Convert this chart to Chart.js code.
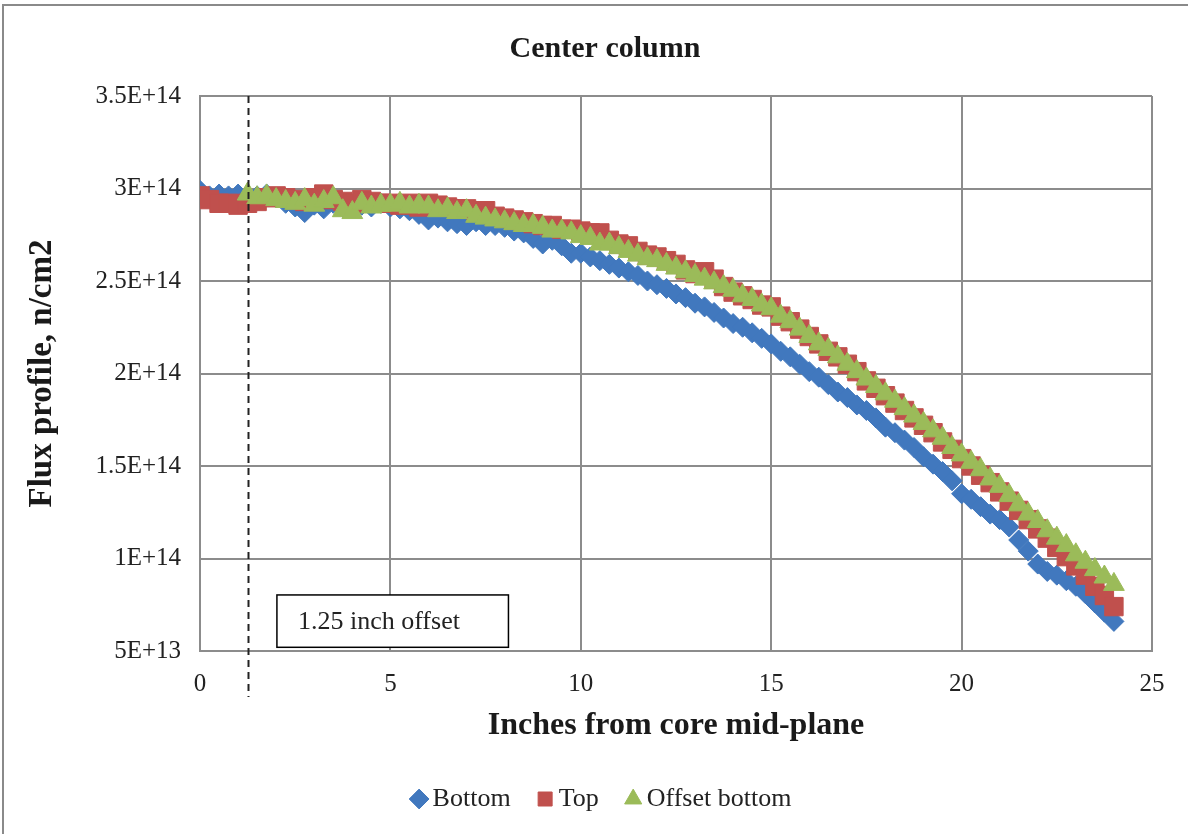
<!DOCTYPE html>
<html>
<head>
<meta charset="utf-8">
<script src="https://cdn.jsdelivr.net/npm/chart.js@4/dist/chart.umd.min.js"></script>
<style>
  html, body { margin: 0; padding: 0; background: #fff; }
  #wrap { position: relative; width: 1188px; height: 834px; }
</style>
</head>
<body>
<div id="wrap"><canvas id="chart" width="1188" height="834"></canvas></div>
<script>
// inches from core mid-plane (0.25 in steps)
const positions = [
    0, 0.25, 0.5, 0.75, 1, 1.25, 1.5, 1.75, 2, 2.25, 2.5, 2.75,
    3, 3.25, 3.5, 3.75, 4, 4.25, 4.5, 4.75, 5, 5.25, 5.5, 5.75,
    6, 6.25, 6.5, 6.75, 7, 7.25, 7.5, 7.75, 8, 8.25, 8.5, 8.75,
    9, 9.25, 9.5, 9.75, 10, 10.25, 10.5, 10.75, 11, 11.25, 11.5, 11.75,
    12, 12.25, 12.5, 12.75, 13, 13.25, 13.5, 13.75, 14, 14.25, 14.5, 14.75,
    15, 15.25, 15.5, 15.75, 16, 16.25, 16.5, 16.75, 17, 17.25, 17.5, 17.75,
    18, 18.25, 18.5, 18.75, 19, 19.25, 19.5, 19.75, 20, 20.25, 20.5, 20.75,
    21, 21.25, 21.5, 21.75, 22, 22.25, 22.5, 22.75, 23, 23.25, 23.5, 23.75, 24
];

// flux, n/cm2
const bottomFlux = [
    299e12, 296e12, 297e12, 296e12, 297e12, 295e12, 296e12, 297e12, 295e12, 292e12, 290e12, 287e12,
    291e12, 289e12, 292e12, 290e12, 291e12, 291e12, 290e12, 292e12, 290e12, 289e12, 288e12, 286e12,
    283e12, 284e12, 282e12, 281e12, 280e12, 282e12, 280e12, 280e12, 279e12, 277e12, 276e12, 273e12,
    270e12, 272e12, 269e12, 265e12, 265e12, 263e12, 261e12, 259e12, 257e12, 255e12, 253e12, 250e12,
    248e12, 246e12, 243e12, 241e12, 238e12, 236e12, 233e12, 230e12, 227e12, 225e12, 222e12, 219e12,
    216e12, 212e12, 209e12, 205e12, 201e12, 198e12, 194e12, 190e12, 187e12, 183e12, 180e12, 176e12,
    171e12, 168e12, 164e12, 160e12, 155e12, 151e12, 147e12, 142e12, 135e12, 132e12, 128e12, 124e12,
    121e12, 117e12, 110e12, 104e12, 97e12, 93e12, 91e12, 88e12, 85e12, 81e12, 76e12, 71e12, 66e12
];

const topFlux = [
    296e12, 294e12, 292e12, 292e12, 291e12, 292e12, 293e12, 295e12, 296e12, 295e12, 294e12, 293e12,
    295e12, 297e12, 294e12, 293e12, 292e12, 294e12, 293e12, 292e12, 292e12, 291e12, 292e12, 290e12,
    292e12, 291e12, 290e12, 289e12, 289e12, 288e12, 288e12, 285e12, 284e12, 283e12, 282e12, 281e12,
    280e12, 280e12, 278e12, 278e12, 277e12, 276e12, 276e12, 272e12, 270e12, 269e12, 266e12, 264e12,
    263e12, 261e12, 259e12, 256e12, 254e12, 255e12, 251e12, 247e12, 244e12, 242e12, 240e12, 237e12,
    236e12, 231e12, 228e12, 224e12, 220e12, 216e12, 212e12, 209e12, 205e12, 201e12, 196e12, 192e12,
    188e12, 184e12, 180e12, 176e12, 172e12, 168e12, 163e12, 159e12, 154e12, 150e12, 145e12, 141e12,
    136e12, 131e12, 126e12, 121e12, 116e12, 111e12, 106e12, 101e12, 96e12, 91e12, 85e12, 80e12, 74e12
];

// offset bottom starts at 1.25 in
const offsetFlux = [
    297e12, 295e12, 296e12, 294e12, 293e12, 292e12, 294e12,
    291e12, 293e12, 295e12, 288e12, 287e12, 292e12, 290e12, 291e12, 291e12, 292e12, 290e12, 291e12,
    290e12, 288e12, 289e12, 287e12, 288e12, 285e12, 284e12, 283e12, 282e12, 281e12, 280e12, 280e12,
    279e12, 277e12, 277e12, 276e12, 274e12, 273e12, 270e12, 270e12, 268e12, 266e12, 264e12, 262e12,
    261e12, 259e12, 257e12, 255e12, 253e12, 251e12, 249e12, 247e12, 245e12, 242e12, 240e12, 237e12,
    235e12, 231e12, 228e12, 224e12, 220e12, 216e12, 213e12, 209e12, 205e12, 201e12, 197e12, 193e12,
    189e12, 185e12, 181e12, 177e12, 173e12, 169e12, 165e12, 160e12, 156e12, 152e12, 148e12, 143e12,
    139e12, 134e12, 129e12, 124e12, 120e12, 115e12, 111e12, 107e12, 102e12, 98e12, 94e12, 90e12, 86e12
];

const seriesNames = ["Bottom", "Top", "Offset bottom"];
const xTicks = [0, 5, 10, 15, 20, 25];
const yTicks = [5e13, 1e14, 1.5e14, 2e14, 2.5e14, 3e14, 3.5e14];
const offsetInch = 1.25;
const offsetLabel = "1.25 inch offset";

const serif = "'Liberation Serif', 'Times New Roman', serif";
const gridGray = "#8c8c8c";

function toPoints(xs, ys) {
    return ys.map((y, i) => ({ x: xs[i], y: y }));
}

// dashed offset line, text box, frame
const extras = {
    id: "extras",
    beforeDraw(chart) {
        const ctx = chart.ctx;
        ctx.save();
        ctx.fillStyle = "#fff";
        ctx.fillRect(0, 0, chart.width, chart.height);
        ctx.strokeStyle = "#8a8a8a";
        ctx.lineWidth = 2;
        ctx.beginPath();
        ctx.moveTo(3, chart.height);
        ctx.lineTo(3, 5);
        ctx.lineTo(chart.width, 5);
        ctx.stroke();
        ctx.restore();
    },
    afterDatasetsDraw(chart) {
        const { ctx, chartArea, scales } = chart;
        const x = scales.x, y = scales.y;
        ctx.save();
        // dashed line at offset
        const px = Math.round(x.getPixelForValue(offsetInch)) + 0.5;
        ctx.strokeStyle = "#222";
        ctx.lineWidth = 2;
        ctx.setLineDash([7, 5]);
        ctx.beginPath();
        ctx.moveTo(px, chartArea.top);
        ctx.lineTo(px, chartArea.bottom + 46);
        ctx.stroke();
        ctx.setLineDash([]);
        // label box
        const bx1 = x.getPixelForValue(2.02), bx2 = x.getPixelForValue(8.1);
        const by1 = y.getPixelForValue(8.03e13), by2 = y.getPixelForValue(5.2e13);
        ctx.fillStyle = "#fff";
        ctx.fillRect(bx1, by1, bx2 - bx1, by2 - by1);
        ctx.strokeStyle = "#000";
        ctx.lineWidth = 1.5;
        ctx.strokeRect(bx1, by1, bx2 - bx1, by2 - by1);
        ctx.fillStyle = "#222";
        ctx.font = "26px " + serif;
        ctx.textBaseline = "middle";
        ctx.textAlign = "left";
        ctx.fillText(offsetLabel, bx1 + 21, (by1 + by2) / 2 + 1);
        ctx.restore();
    }
};

new Chart(document.getElementById("chart"), {
    type: "scatter",
    data: {
        datasets: [{
            label: seriesNames[0],
            data: toPoints(positions, bottomFlux),
            yAxisID: "y",
            order: 3,
            pointStyle: "rectRot",
            pointRadius: 10,
            backgroundColor: "#4178be",
            borderColor: "#4178be",
            borderWidth: 1
        }, {
            label: seriesNames[1],
            data: toPoints(positions, topFlux),
            yAxisID: "y",
            order: 2,
            pointStyle: "rect",
            pointRadius: 13,
            backgroundColor: "#c0504d",
            borderColor: "#c0504d",
            borderWidth: 1
        }, {
            label: seriesNames[2],
            data: toPoints(positions.slice(5), offsetFlux),
            yAxisID: "y",
            order: 1,
            pointStyle: "triangle",
            pointRadius: 12,
            backgroundColor: "#9bbb59",
            borderColor: "#9bbb59",
            borderWidth: 1
        }]
    },
    options: {
        responsive: false,
        animation: false,
        layout: { padding: { top: 20, left: 22, right: 0, bottom: 12 } },
        plugins: {
            title: {
                display: true,
                text: "Center column",
                color: "#1a1a1a",
                font: { family: serif, size: 30, weight: "bold" },
                padding: { top: 11, bottom: 29 }
            },
            legend: {
                position: "bottom",
                labels: {
                    usePointStyle: true,
                    color: "#222",
                    font: { family: serif, size: 26 },
                    padding: 34,
                    boxWidth: 1,
                    boxHeight: 14,
                    sort: (a, b) => a.datasetIndex - b.datasetIndex
                }
            },
            tooltip: { enabled: false }
        },
        scales: {
            x: {
                type: "linear",
                min: xTicks[0],
                max: xTicks[xTicks.length - 1],
                afterBuildTicks: s => { s.ticks = xTicks.map(v => ({ value: v })); },
                afterFit: s => { s.height = 101; },
                grid: { color: gridGray, lineWidth: 2, drawTicks: false },
                border: { color: gridGray, width: 2 },
                ticks: {
                    color: "#222",
                    padding: 18,
                    font: { family: serif, size: 25 }
                },
                title: {
                    display: true,
                    text: "Inches from core mid-plane",
                    color: "#1a1a1a",
                    font: { family: serif, size: 32, weight: "bold" },
                    padding: { top: 0, bottom: 7 }
                }
            },
            y: {
                type: "linear",
                position: "left",
                min: yTicks[0],
                max: yTicks[yTicks.length - 1],
                afterBuildTicks: s => { s.ticks = yTicks.map(v => ({ value: v })); },
                afterFit: s => { s.width = 178; },
                grid: { color: gridGray, lineWidth: 2, drawTicks: false },
                border: { color: gridGray, width: 2 },
                ticks: {
                    color: "#222",
                    padding: 19,
                    font: { family: serif, size: 25 },
                    callback: v => Number(v.toPrecision(3)).toExponential().toUpperCase()
                },
                title: {
                    display: true,
                    text: "Flux profile, n/cm2",
                    color: "#1a1a1a",
                    font: { family: serif, size: 33, weight: "bold" },
                    padding: { top: 1, bottom: 0 }
                }
            },
            // blank spacer on the right so the plot ends where the reference does
            spacer: {
                type: "linear",
                axis: "y",
                position: "right",
                afterFit: s => { s.width = 36; },
                grid: { display: false, drawOnChartArea: false },
                border: { display: false },
                ticks: { display: false }
            }
        }
    },
    plugins: [extras]
});
</script>
</body>
</html>
